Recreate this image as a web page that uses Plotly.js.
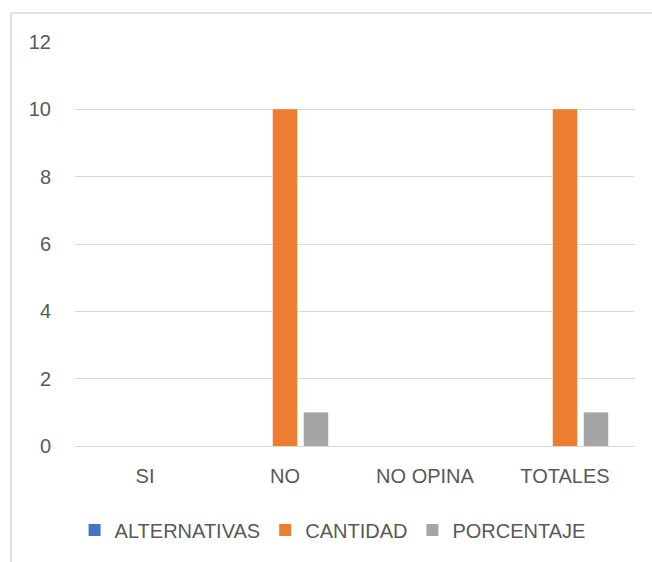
<!DOCTYPE html>
<html><head><meta charset="utf-8">
<script src="https://cdn.plot.ly/plotly-3.0.1.min.js"></script>
<style>html,body{margin:0;padding:0;background:#fff;}#chart{width:652px;height:562px;}</style>
</head><body><div id="chart"></div>
<script>
var categories = ["SI", "NO", "NO OPINA", "TOTALES"];
var alternativas = [0, 0, 0, 0];
var cantidad = [0, 10, 0, 10];
var porcentaje = [0, 1, 0, 1];
var yTicks = [0, 2, 4, 6, 8, 10, 12];

var W = 652, H = 562, mL = 75, mR = 17, mT = 42, mB = 116;
var pw = W - mL - mR, ph = H - mT - mB;
function px(x){ return (x - mL) / pw; }
function py(y){ return (H - mB - y) / ph; }

var font = {family: "Liberation Sans, Arial, sans-serif", size: 20, color: "#595959"};
var traces = [
  {type: "bar", name: "ALTERNATIVAS", x: categories, y: alternativas, marker: {color: "#4472C4"}},
  {type: "bar", name: "CANTIDAD", x: categories, y: cantidad, marker: {color: "#ED7D31"}},
  {type: "bar", name: "PORCENTAJE", x: categories, y: porcentaje, marker: {color: "#A5A5A5"}}
];
var layout = {
  width: W, height: H,
  margin: {l: mL, r: mR, t: mT, b: mB},
  paper_bgcolor: "#fff", plot_bgcolor: "#fff",
  barmode: "group", bargap: 0.336, bargroupgap: 0.21,
  font: font,
  showlegend: true,
  legend: {orientation: "h", x: 0.46, xanchor: "center", y: py(530), yanchor: "middle", font: font, traceorder: "normal", itemwidth: 30},
  xaxis: {showgrid: false, showline: false, zeroline: false, ticks: "", tickfont: font, fixedrange: true, ticklabelstandoff: 16},
  yaxis: {range: [0, 12], tickvals: yTicks, ticktext: yTicks.map(String), showgrid: true, gridcolor: "#d9d9d9", gridwidth: 1,
          zeroline: true, zerolinecolor: "#d9d9d9", zerolinewidth: 1, showline: false, ticks: "", tickfont: font, ticklabelstandoff: 23},
  shapes: [
    {type: "line", xref: "paper", yref: "paper", x0: px(11), x1: px(652), y0: py(13), y1: py(13), line: {color: "#d9d9d9", width: 1.5}},
    {type: "line", xref: "paper", yref: "paper", x0: px(11), x1: px(11), y0: py(13), y1: py(562), line: {color: "#d9d9d9", width: 1.5}}
  ]
};
Plotly.newPlot("chart", traces, layout, {displayModeBar: false, staticPlot: true});
</script></body></html>
